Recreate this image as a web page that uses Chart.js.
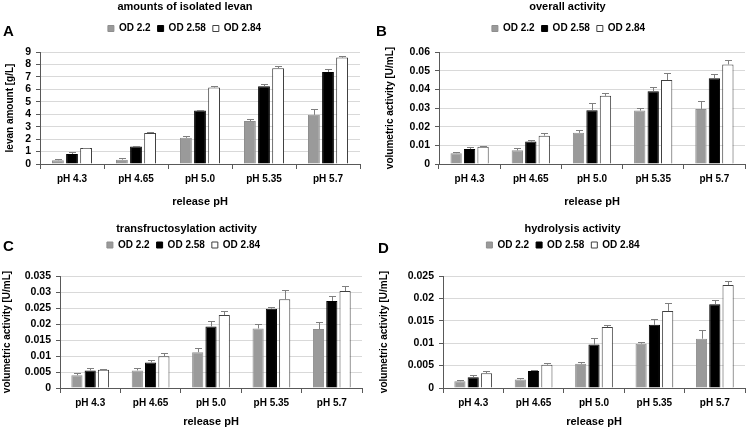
<!DOCTYPE html>
<html><head><meta charset="utf-8">
<script src="https://cdn.jsdelivr.net/npm/chart.js@4.4.1/dist/chart.umd.min.js"></script>
<style>
html,body{margin:0;padding:0;background:#fff;width:746px;height:429px;overflow:hidden;position:relative}
canvas{position:absolute}
.letter{position:absolute;font:bold 15px "Liberation Sans",Arial,sans-serif;line-height:15px;color:#000}
</style></head><body>
<canvas id="cA" width="373" height="215" style="left:0;top:0"></canvas>
<canvas id="cB" width="373" height="215" style="left:373px;top:0"></canvas>
<canvas id="cC" width="373" height="214" style="left:0;top:215px"></canvas>
<canvas id="cD" width="373" height="214" style="left:373px;top:215px"></canvas>
<div class="letter" style="left:3px;top:23px">A</div>
<div class="letter" style="left:376px;top:23px">B</div>
<div class="letter" style="left:3px;top:238px">C</div>
<div class="letter" style="left:378px;top:240px">D</div>
<script>
// ---- data ----
const categories = ['pH 4.3', 'pH 4.65', 'pH 5.0', 'pH 5.35', 'pH 5.7'];
const seriesNames = ['OD 2.2', 'OD 2.58', 'OD 2.84'];
const xAxisTitle = 'release pH';

// A: amounts of isolated levan [g/L]
const levanOD22 = [0.3, 0.35, 2.1, 3.45, 3.95];
const levanOD22Err = [0.1, 0.15, 0.15, 0.2, 0.5];
const levanOD258 = [0.8, 1.4, 4.3, 6.25, 7.4];
const levanOD258Err = [0.15, 0.05, 0.03, 0.2, 0.25];
const levanOD284 = [1.28, 2.5, 6.15, 7.7, 8.55];
const levanOD284Err = [0.03, 0.1, 0.15, 0.15, 0.1];
const levanTicks = [0, 1, 2, 3, 4, 5, 6, 7, 8, 9];

// B: overall activity [U/mL]
const overallOD22 = [0.0058, 0.0073, 0.0167, 0.0286, 0.0295];
const overallOD22Err = [0.0007, 0.0012, 0.0015, 0.0016, 0.0041];
const overallOD258 = [0.008, 0.012, 0.0288, 0.039, 0.046];
const overallOD258Err = [0.001, 0.0007, 0.0037, 0.002, 0.002];
const overallOD284 = [0.0092, 0.0152, 0.0365, 0.045, 0.0533];
const overallOD284Err = [0.0005, 0.0013, 0.0015, 0.004, 0.0024];
const overallTicks = [0, 0.01, 0.02, 0.03, 0.04, 0.05, 0.06];

// C: transfructosylation activity [U/mL]
const transOD22 = [0.004, 0.0055, 0.0112, 0.0186, 0.0184];
const transOD22Err = [0.0008, 0.0006, 0.0012, 0.0015, 0.0022];
const transOD258 = [0.0055, 0.008, 0.0192, 0.0248, 0.0272];
const transOD258Err = [0.0006, 0.0006, 0.0018, 0.0005, 0.0015];
const transOD284 = [0.0057, 0.0099, 0.0228, 0.0277, 0.0303];
const transOD284Err = [0.0003, 0.0009, 0.0013, 0.0028, 0.0015];
const transTicks = [0, 0.005, 0.01, 0.015, 0.02, 0.025, 0.03, 0.035];

// D: hydrolysis activity [U/mL]
const hydroOD22 = [0.0015, 0.0019, 0.0054, 0.0099, 0.011];
const hydroOD22Err = [0.0002, 0.0004, 0.0005, 0.0003, 0.002];
const hydroOD258 = [0.0024, 0.0038, 0.0097, 0.0141, 0.0187];
const hydroOD258Err = [0.0004, 0.0002, 0.0015, 0.0014, 0.001];
const hydroOD284 = [0.0033, 0.0052, 0.0136, 0.0172, 0.023];
const hydroOD284Err = [0.0006, 0.0004, 0.0005, 0.0018, 0.0009];
const hydroTicks = [0, 0.005, 0.01, 0.015, 0.02, 0.025];

// ---- styling ----
const FONT = '"Liberation Sans", Arial, sans-serif';
const AXIS = '#595959';
const GRID = '#d9d9d9';
const ERR = '#7f7f7f';
const seriesStyle = [
  {backgroundColor: '#9a9a9a', borderColor: '#8e8e8e'},
  {backgroundColor: '#000000', borderColor: '#000000'},
  {backgroundColor: '#ffffff', borderColor: '#404040'}
];

const errorBars = {
  id: 'errorBars',
  afterDatasetsDraw(chart) {
    const ctx = chart.ctx, y = chart.scales.y;
    chart.data.datasets.forEach((ds, i) => {
      const meta = chart.getDatasetMeta(i);
      meta.data.forEach((bar, j) => {
        const v = ds.data[j], e = ds.errors[j];
        const yb = y.getPixelForValue(v), yt = Math.round(y.getPixelForValue(v + e)) + 0.5;
        const x = Math.round(bar.x) + 0.5;
        ctx.save();
        ctx.strokeStyle = ERR; ctx.lineWidth = 1;
        ctx.beginPath();
        ctx.moveTo(x, yb); ctx.lineTo(x, yt);
        ctx.moveTo(x - 3.5, yt); ctx.lineTo(x + 3.5, yt);
        ctx.stroke();
        ctx.restore();
      });
    });
  }
};

const panelFit = {
  id: 'panelFit',
  afterInit(chart, args, opts) {
    const lg = chart.legend;
    if (lg) {
      const f = lg.fit;
      lg.fit = function () { f.call(this); this.height = opts.legendH; };
    }
  },
  afterLayout(chart, args, opts) {
    if (chart.legend) { chart.legend.left += opts.dxL; chart.legend.right += opts.dxL; }
    if (chart.titleBlock) { chart.titleBlock.left += opts.dxT; chart.titleBlock.right += opts.dxT; }
  }
};

function makePanel(id, p) {
  const datasets = p.values.map((vals, i) => Object.assign({
    label: seriesNames[i],
    data: vals,
    errors: p.errors[i],
    borderWidth: 1,
    categoryPercentage: 0.66,
    barPercentage: 0.84
  }, seriesStyle[i]));
  new Chart(document.getElementById(id), {
    type: 'bar',
    data: {labels: categories, datasets},
    plugins: [errorBars, panelFit],
    options: {
      responsive: false,
      animation: false,
      events: [],
      layout: {padding: {left: p.padL, right: p.padR, top: 0, bottom: p.padB}},
      plugins: {
        title: {display: true, text: p.title, color: '#000',
          font: {family: FONT, size: 11, weight: 'bold', lineHeight: 1},
          padding: {top: p.titleTop, bottom: p.titleGap}},
        legend: {display: true, position: 'top',
          labels: {boxWidth: 6, boxHeight: 6, padding: 7, color: '#000',
            font: {family: FONT, size: 10, weight: 'bold'}}},
        tooltip: {enabled: false},
        panelFit: {legendH: p.legendH, dxT: p.dxT, dxL: p.dxL}
      },
      scales: {
        x: {
          grid: {offset: true, drawOnChartArea: false, drawTicks: true, tickLength: 5, tickColor: AXIS},
          border: {color: AXIS},
          ticks: {color: '#000', padding: 4, font: {family: FONT, size: 10, weight: 'bold'}},
          title: {display: true, text: xAxisTitle, color: '#000', padding: {top: 0, bottom: 0},
            font: {family: FONT, size: 11, weight: 'bold'}},
          afterFit(s) { s.height = p.xH; }
        },
        y: {
          min: 0, max: p.ticks[p.ticks.length - 1],
          afterBuildTicks(s) { s.ticks = p.ticks.map(v => ({value: v})); },
          grid: {color: GRID, tickLength: 4, tickColor: AXIS},
          border: {color: AXIS},
          ticks: {color: '#000', padding: 5, autoSkip: false, font: {family: FONT, size: 10.5, weight: 'bold'},
            callback: v => String(Math.round(v * 100000) / 100000)},
          title: {display: true, text: p.yTitle, color: '#000', padding: {top: 0, bottom: 0},
            font: {family: FONT, size: 10, weight: 'bold'}},
          afterFit(s) { s.width = p.yW; }
        }
      }
    }
  });
}

makePanel('cA', {
  title: 'amounts of isolated levan', yTitle: 'levan amount [g/L]', ticks: levanTicks,
  values: [levanOD22, levanOD258, levanOD284], errors: [levanOD22Err, levanOD258Err, levanOD284Err],
  padL: 4, yW: 36, padR: 13, padB: 6.4, xH: 44.6, titleTop: 1.5, titleGap: 4, legendH: 35.5, dxT: 3, dxL: 2.5
});
makePanel('cB', {
  title: 'overall activity', yTitle: 'volumetric activity [U/mL]', ticks: overallTicks,
  values: [overallOD22, overallOD258, overallOD284], errors: [overallOD22Err, overallOD258Err, overallOD284Err],
  padL: 11, yW: 55, padR: 1, padB: 6.4, xH: 44.6, titleTop: 1.5, titleGap: 4, legendH: 35.5, dxT: 3, dxL: 4
});
makePanel('cC', {
  title: 'transfructosylation activity', yTitle: 'volumetric activity [U/mL]', ticks: transTicks,
  values: [transOD22, transOD258, transOD284], errors: [transOD22Err, transOD258Err, transOD284Err],
  padL: 1, yW: 59, padR: 11, padB: 0.9, xH: 40.1, titleTop: 8, titleGap: -1, legendH: 43, dxT: 5, dxL: 2
});
makePanel('cD', {
  title: 'hydrolysis activity', yTitle: 'volumetric activity [U/mL]', ticks: hydroTicks,
  values: [hydroOD22, hydroOD258, hydroOD284], errors: [hydroOD22Err, hydroOD258Err, hydroOD284Err],
  padL: 5, yW: 65, padR: 1, padB: 0.9, xH: 40.1, titleTop: 8, titleGap: -1, legendH: 43, dxT: 11, dxL: 1.5
});
</script>
</body></html>
